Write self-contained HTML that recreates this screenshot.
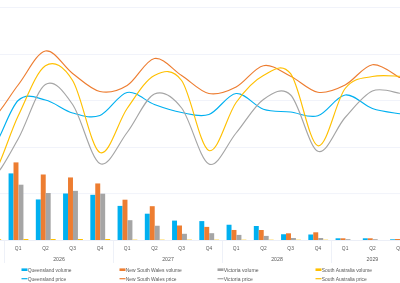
<!DOCTYPE html>
<html><head><meta charset="utf-8"><style>
html,body{margin:0;padding:0;background:#fff;width:400px;height:283px;overflow:hidden}
svg{display:block}
.t{font-family:"Liberation Sans",sans-serif;font-size:5.5px;fill:#595959}
svg{will-change:transform}
</style></head><body>
<svg width="400" height="283" viewBox="0 0 400 283">
<line x1="0" y1="7.5" x2="400" y2="7.5" stroke="#F1F3FA" stroke-width="1"/>
<line x1="0" y1="54.5" x2="400" y2="54.5" stroke="#F1F3FA" stroke-width="1"/>
<line x1="0" y1="100.5" x2="400" y2="100.5" stroke="#F1F3FA" stroke-width="1"/>
<line x1="0" y1="147.5" x2="400" y2="147.5" stroke="#F1F3FA" stroke-width="1"/>
<line x1="0" y1="193.6" x2="400" y2="193.6" stroke="#F1F3FA" stroke-width="1"/>
<rect x="-3.82" y="239.20" width="4.95" height="0.80" fill="#FFC000"/>
<rect x="8.57" y="173.40" width="4.95" height="66.60" fill="#00B0F0"/>
<rect x="13.52" y="162.40" width="4.95" height="77.60" fill="#ED7D31"/>
<rect x="18.48" y="184.70" width="4.95" height="55.30" fill="#A5A5A5"/>
<rect x="23.43" y="239.00" width="4.95" height="1.00" fill="#FFC000"/>
<rect x="35.82" y="199.45" width="4.95" height="40.55" fill="#00B0F0"/>
<rect x="40.77" y="174.50" width="4.95" height="65.50" fill="#ED7D31"/>
<rect x="45.73" y="193.00" width="4.95" height="47.00" fill="#A5A5A5"/>
<rect x="50.68" y="239.00" width="4.95" height="1.00" fill="#FFC000"/>
<rect x="63.07" y="193.50" width="4.95" height="46.50" fill="#00B0F0"/>
<rect x="68.02" y="177.45" width="4.95" height="62.55" fill="#ED7D31"/>
<rect x="72.98" y="190.85" width="4.95" height="49.15" fill="#A5A5A5"/>
<rect x="77.93" y="239.00" width="4.95" height="1.00" fill="#FFC000"/>
<rect x="90.32" y="194.80" width="4.95" height="45.20" fill="#00B0F0"/>
<rect x="95.27" y="183.45" width="4.95" height="56.55" fill="#ED7D31"/>
<rect x="100.22" y="193.70" width="4.95" height="46.30" fill="#A5A5A5"/>
<rect x="105.18" y="239.00" width="4.95" height="1.00" fill="#FFC000"/>
<rect x="117.57" y="205.90" width="4.95" height="34.10" fill="#00B0F0"/>
<rect x="122.52" y="199.70" width="4.95" height="40.30" fill="#ED7D31"/>
<rect x="127.47" y="220.20" width="4.95" height="19.80" fill="#A5A5A5"/>
<rect x="132.43" y="239.65" width="4.95" height="0.35" fill="#FFC000"/>
<rect x="144.82" y="213.70" width="4.95" height="26.30" fill="#00B0F0"/>
<rect x="149.77" y="206.20" width="4.95" height="33.80" fill="#ED7D31"/>
<rect x="154.72" y="225.75" width="4.95" height="14.25" fill="#A5A5A5"/>
<rect x="159.68" y="239.65" width="4.95" height="0.35" fill="#FFC000"/>
<rect x="172.07" y="220.60" width="4.95" height="19.40" fill="#00B0F0"/>
<rect x="177.02" y="225.50" width="4.95" height="14.50" fill="#ED7D31"/>
<rect x="181.97" y="233.80" width="4.95" height="6.20" fill="#A5A5A5"/>
<rect x="186.93" y="239.65" width="4.95" height="0.35" fill="#FFC000"/>
<rect x="199.32" y="221.10" width="4.95" height="18.90" fill="#00B0F0"/>
<rect x="204.27" y="226.90" width="4.95" height="13.10" fill="#ED7D31"/>
<rect x="209.22" y="233.20" width="4.95" height="6.80" fill="#A5A5A5"/>
<rect x="214.18" y="239.65" width="4.95" height="0.35" fill="#FFC000"/>
<rect x="226.57" y="224.74" width="4.95" height="15.26" fill="#00B0F0"/>
<rect x="231.52" y="229.97" width="4.95" height="10.03" fill="#ED7D31"/>
<rect x="236.47" y="234.90" width="4.95" height="5.10" fill="#A5A5A5"/>
<rect x="241.43" y="239.70" width="4.95" height="0.30" fill="#FFC000"/>
<rect x="253.82" y="226.00" width="4.95" height="14.00" fill="#00B0F0"/>
<rect x="258.77" y="230.00" width="4.95" height="10.00" fill="#ED7D31"/>
<rect x="263.73" y="235.90" width="4.95" height="4.10" fill="#A5A5A5"/>
<rect x="268.68" y="239.70" width="4.95" height="0.30" fill="#FFC000"/>
<rect x="281.07" y="234.25" width="4.95" height="5.75" fill="#00B0F0"/>
<rect x="286.02" y="233.30" width="4.95" height="6.70" fill="#ED7D31"/>
<rect x="290.98" y="238.00" width="4.95" height="2.00" fill="#A5A5A5"/>
<rect x="295.93" y="239.70" width="4.95" height="0.30" fill="#FFC000"/>
<rect x="308.32" y="234.50" width="4.95" height="5.50" fill="#00B0F0"/>
<rect x="313.27" y="232.30" width="4.95" height="7.70" fill="#ED7D31"/>
<rect x="318.23" y="238.00" width="4.95" height="2.00" fill="#A5A5A5"/>
<rect x="323.18" y="239.70" width="4.95" height="0.30" fill="#FFC000"/>
<rect x="335.57" y="238.30" width="4.95" height="1.70" fill="#00B0F0"/>
<rect x="340.52" y="238.30" width="4.95" height="1.70" fill="#ED7D31"/>
<rect x="345.48" y="239.20" width="4.95" height="0.80" fill="#A5A5A5"/>
<rect x="362.82" y="238.30" width="4.95" height="1.70" fill="#00B0F0"/>
<rect x="367.77" y="238.30" width="4.95" height="1.70" fill="#ED7D31"/>
<rect x="372.73" y="239.20" width="4.95" height="0.80" fill="#A5A5A5"/>
<rect x="390.07" y="239.30" width="4.95" height="0.70" fill="#00B0F0"/>
<rect x="395.02" y="239.00" width="4.95" height="1.00" fill="#ED7D31"/>
<rect x="399.98" y="239.60" width="4.95" height="0.40" fill="#A5A5A5"/>
<line x1="0" y1="240.5" x2="400" y2="240.5" stroke="#ECEFF7" stroke-width="1"/>
<line x1="4.5" y1="241" x2="4.5" y2="263" stroke="#EEF1F8" stroke-width="1"/>
<line x1="113.5" y1="241" x2="113.5" y2="263" stroke="#EEF1F8" stroke-width="1"/>
<line x1="222.5" y1="241" x2="222.5" y2="263" stroke="#EEF1F8" stroke-width="1"/>
<line x1="331.5" y1="241" x2="331.5" y2="263" stroke="#EEF1F8" stroke-width="1"/>
<path d="M-36.38,151.00 C-31.83,151.00 -18.21,159.42 -9.12,151.00 C-0.04,142.58 9.04,109.00 18.12,100.50 C27.21,92.00 36.29,97.92 45.38,100.00 C54.46,102.08 63.54,110.42 72.62,113.00 C81.71,115.58 90.79,118.92 99.88,115.50 C108.96,112.08 118.04,94.33 127.12,92.50 C136.21,90.67 145.29,101.17 154.38,104.50 C163.46,107.83 172.54,110.83 181.62,112.50 C190.71,114.17 199.79,117.67 208.88,114.50 C217.96,111.33 227.04,94.38 236.12,93.50 C245.21,92.62 254.29,106.17 263.38,109.25 C272.46,112.33 281.54,110.91 290.62,112.00 C299.71,113.09 308.79,118.63 317.88,115.80 C326.96,112.97 336.04,96.22 345.12,95.00 C354.21,93.78 363.29,105.38 372.38,108.50 C381.46,111.62 395.08,112.88 399.62,113.75" fill="none" stroke="#00B0F0" stroke-width="1.15" stroke-linejoin="round" stroke-linecap="round"/>
<path d="M-36.38,120.00 C-31.83,120.00 -18.21,125.83 -9.12,120.00 C-0.04,114.17 9.04,96.50 18.12,85.00 C27.21,73.50 36.29,52.92 45.38,51.00 C54.46,49.08 63.54,66.75 72.62,73.50 C81.71,80.25 90.79,89.50 99.88,91.50 C108.96,93.50 118.04,91.00 127.12,85.50 C136.21,80.00 145.29,60.17 154.38,58.50 C163.46,56.83 172.54,69.67 181.62,75.50 C190.71,81.33 199.79,91.58 208.88,93.50 C217.96,95.42 227.04,91.63 236.12,87.00 C245.21,82.37 254.29,67.49 263.38,65.70 C272.46,63.91 281.54,71.83 290.62,76.25 C299.71,80.67 308.79,90.79 317.88,92.25 C326.96,93.71 336.04,89.58 345.12,85.00 C354.21,80.42 363.29,66.00 372.38,64.75 C381.46,63.50 395.08,75.38 399.62,77.50" fill="none" stroke="#ED7D31" stroke-width="1.15" stroke-linejoin="round" stroke-linecap="round"/>
<path d="M-36.38,180.00 C-31.83,180.00 -18.21,186.83 -9.12,180.00 C-0.04,173.17 9.04,154.92 18.12,139.00 C27.21,123.08 36.29,90.25 45.38,84.50 C54.46,78.75 63.54,91.33 72.62,104.50 C81.71,117.67 90.79,158.83 99.88,163.50 C108.96,168.17 118.04,144.08 127.12,132.50 C136.21,120.92 145.29,98.08 154.38,94.00 C163.46,89.92 172.54,96.33 181.62,108.00 C190.71,119.67 199.79,159.83 208.88,164.00 C217.96,168.17 227.04,143.75 236.12,133.00 C245.21,122.25 254.29,105.83 263.38,99.50 C272.46,93.17 281.54,86.38 290.62,95.00 C299.71,103.62 308.79,147.50 317.88,151.25 C326.96,155.00 336.04,127.54 345.12,117.50 C354.21,107.46 363.29,95.04 372.38,91.00 C381.46,86.96 395.08,92.88 399.62,93.25" fill="none" stroke="#A5A5A5" stroke-width="1.15" stroke-linejoin="round" stroke-linecap="round"/>
<path d="M-36.38,179.00 C-31.83,179.00 -18.21,189.50 -9.12,179.00 C-0.04,168.50 9.04,134.87 18.12,116.00 C27.21,97.13 36.29,71.72 45.38,65.80 C54.46,59.88 63.54,66.05 72.62,80.50 C81.71,94.95 90.79,147.83 99.88,152.50 C108.96,157.17 118.04,121.33 127.12,108.50 C136.21,95.67 145.29,80.17 154.38,75.50 C163.46,70.83 172.54,68.00 181.62,80.50 C190.71,93.00 199.79,146.83 208.88,150.50 C217.96,154.17 227.04,115.00 236.12,102.50 C245.21,90.00 254.29,80.30 263.38,75.50 C272.46,70.70 281.54,61.99 290.62,73.70 C299.71,85.41 308.79,143.28 317.88,145.75 C326.96,148.22 336.04,100.04 345.12,88.50 C354.21,76.96 363.29,78.54 372.38,76.50 C381.46,74.46 395.08,76.29 399.62,76.25" fill="none" stroke="#FFC000" stroke-width="1.15" stroke-linejoin="round" stroke-linecap="round"/>
<text x="18.12" y="250.2" text-anchor="middle" class="t" textLength="6.5" lengthAdjust="spacingAndGlyphs">Q1</text>
<text x="45.38" y="250.2" text-anchor="middle" class="t" textLength="6.5" lengthAdjust="spacingAndGlyphs">Q2</text>
<text x="72.62" y="250.2" text-anchor="middle" class="t" textLength="6.5" lengthAdjust="spacingAndGlyphs">Q3</text>
<text x="99.88" y="250.2" text-anchor="middle" class="t" textLength="6.5" lengthAdjust="spacingAndGlyphs">Q4</text>
<text x="127.12" y="250.2" text-anchor="middle" class="t" textLength="6.5" lengthAdjust="spacingAndGlyphs">Q1</text>
<text x="154.38" y="250.2" text-anchor="middle" class="t" textLength="6.5" lengthAdjust="spacingAndGlyphs">Q2</text>
<text x="181.62" y="250.2" text-anchor="middle" class="t" textLength="6.5" lengthAdjust="spacingAndGlyphs">Q3</text>
<text x="208.88" y="250.2" text-anchor="middle" class="t" textLength="6.5" lengthAdjust="spacingAndGlyphs">Q4</text>
<text x="236.12" y="250.2" text-anchor="middle" class="t" textLength="6.5" lengthAdjust="spacingAndGlyphs">Q1</text>
<text x="263.38" y="250.2" text-anchor="middle" class="t" textLength="6.5" lengthAdjust="spacingAndGlyphs">Q2</text>
<text x="290.62" y="250.2" text-anchor="middle" class="t" textLength="6.5" lengthAdjust="spacingAndGlyphs">Q3</text>
<text x="317.88" y="250.2" text-anchor="middle" class="t" textLength="6.5" lengthAdjust="spacingAndGlyphs">Q4</text>
<text x="345.12" y="250.2" text-anchor="middle" class="t" textLength="6.5" lengthAdjust="spacingAndGlyphs">Q1</text>
<text x="372.38" y="250.2" text-anchor="middle" class="t" textLength="6.5" lengthAdjust="spacingAndGlyphs">Q2</text>
<text x="399.62" y="250.2" text-anchor="middle" class="t" textLength="6.5" lengthAdjust="spacingAndGlyphs">Q3</text>
<text x="59" y="261.15" text-anchor="middle" class="t" textLength="11.6" lengthAdjust="spacingAndGlyphs">2026</text>
<text x="168" y="261.15" text-anchor="middle" class="t" textLength="11.6" lengthAdjust="spacingAndGlyphs">2027</text>
<text x="277" y="261.15" text-anchor="middle" class="t" textLength="11.6" lengthAdjust="spacingAndGlyphs">2028</text>
<text x="372.4" y="261.15" text-anchor="middle" class="t" textLength="11.6" lengthAdjust="spacingAndGlyphs">2029</text>
<rect x="21.5" y="268.4" width="6" height="2.6" fill="#00B0F0"/>
<text x="27.7" y="271.85" class="t" textLength="43.78" lengthAdjust="spacingAndGlyphs">Queensland volume</text>
<rect x="119.5" y="268.4" width="6" height="2.6" fill="#ED7D31"/>
<text x="125.7" y="271.85" class="t" textLength="56.09" lengthAdjust="spacingAndGlyphs">New South Wales volume</text>
<rect x="217.5" y="268.4" width="6" height="2.6" fill="#A5A5A5"/>
<text x="223.7" y="271.85" class="t" textLength="34.8" lengthAdjust="spacingAndGlyphs">Victoria volume</text>
<rect x="315.5" y="268.4" width="6" height="2.6" fill="#FFC000"/>
<text x="321.7" y="271.85" class="t" textLength="50.3" lengthAdjust="spacingAndGlyphs">South Australia volume</text>
<line x1="21.5" y1="278.7" x2="27.5" y2="278.7" stroke="#00B0F0" stroke-width="1.2"/>
<text x="27.7" y="280.59999999999997" class="t" textLength="38.61" lengthAdjust="spacingAndGlyphs">Queensland price</text>
<line x1="119.5" y1="278.7" x2="125.5" y2="278.7" stroke="#ED7D31" stroke-width="1.2"/>
<text x="125.7" y="280.59999999999997" class="t" textLength="50.93" lengthAdjust="spacingAndGlyphs">New South Wales price</text>
<line x1="217.5" y1="278.7" x2="223.5" y2="278.7" stroke="#A5A5A5" stroke-width="1.2"/>
<text x="223.7" y="280.59999999999997" class="t" textLength="29.2" lengthAdjust="spacingAndGlyphs">Victoria price</text>
<line x1="315.5" y1="278.7" x2="321.5" y2="278.7" stroke="#FFC000" stroke-width="1.2"/>
<text x="321.7" y="280.59999999999997" class="t" textLength="45.14" lengthAdjust="spacingAndGlyphs">South Australia price</text>
</svg></body></html>
